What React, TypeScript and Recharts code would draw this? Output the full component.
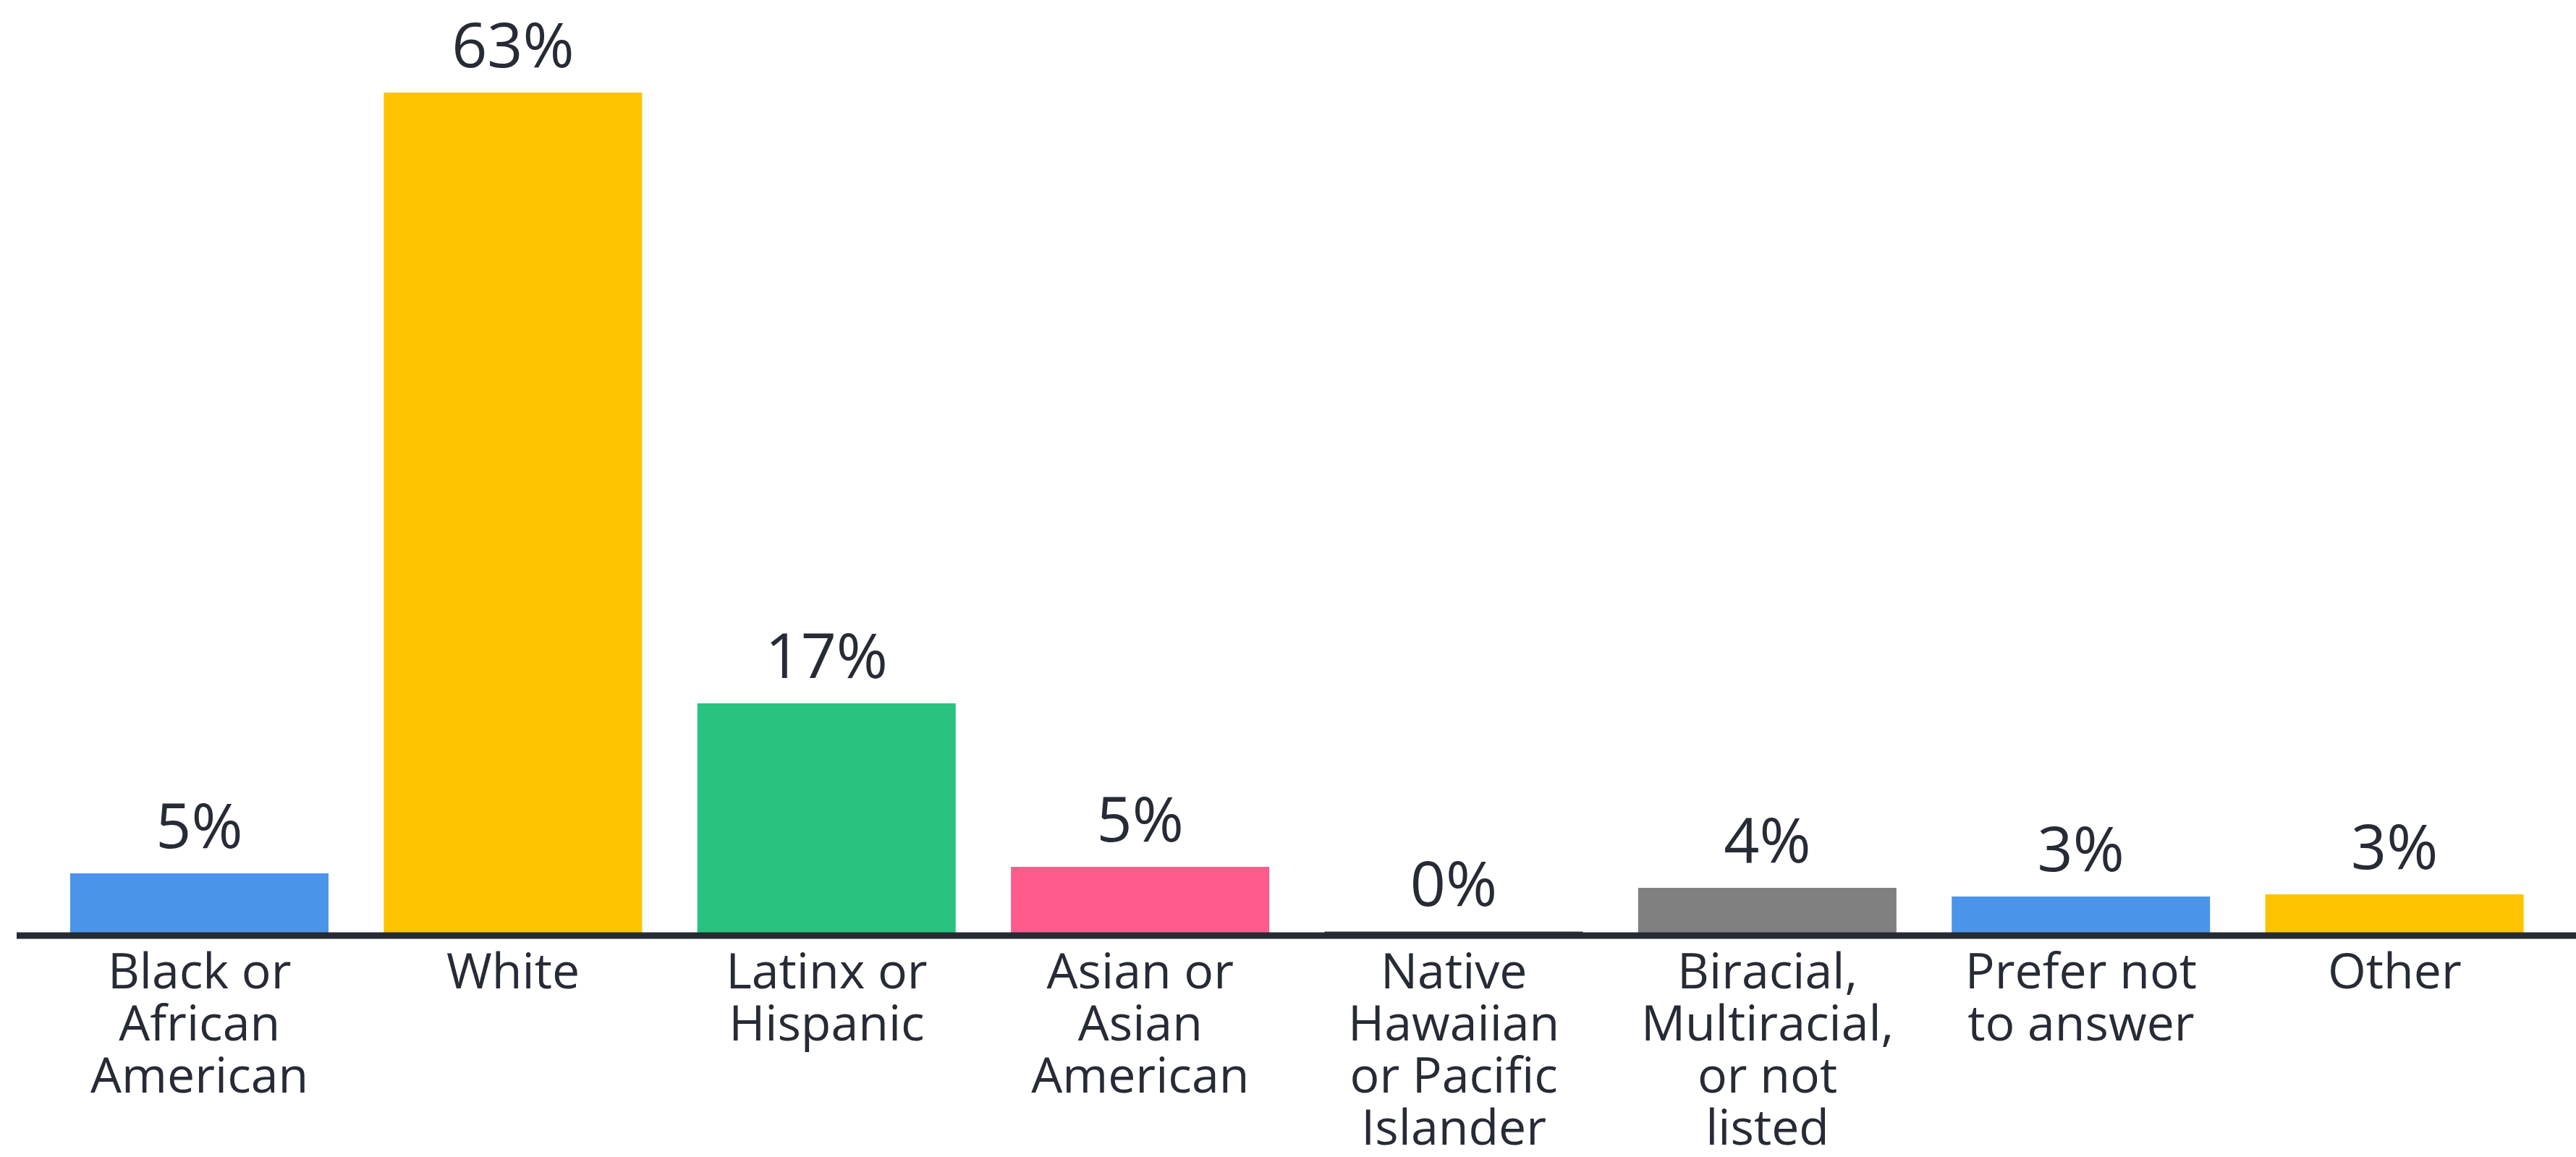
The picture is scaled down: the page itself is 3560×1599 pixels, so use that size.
import { Bar, BarChart, Cell, LabelList, XAxis, YAxis } from "recharts";

const categories = [
  "Black or\nAfrican\nAmerican",
  "White",
  "Latinx or\nHispanic",
  "Asian or\nAsian\nAmerican",
  "Native\nHawaiian\nor Pacific\nIslander",
  "Biracial,\nMultiracial,\nor not\nlisted",
  "Prefer not\nto answer",
  "Other",
];
const shares = [4.65, 63, 17.36, 5.14, 0.3, 3.57, 2.92, 3.08];
const shareLabels = ["5%", "63%", "17%", "5%", "0%", "4%", "3%", "3%"];
const barColors = [
  "#4a95ea",
  "#fdc300",
  "#28c37e",
  "#ff5b8d",
  "#2b2f3e",
  "#808080",
  "#4a95ea",
  "#fdc300",
];

const data = categories.map((name, i) => ({ name, share: shares[i] }));

const FONT = "'Open Sans', 'DejaVu Sans', sans-serif";
const INK = "#272b36";

function CategoryTick(props: any) {
  const { x, y, payload } = props;
  const lines = String(payload.value).split("\n");
  return (
    <text
      x={x}
      y={y + 73}
      textAnchor="middle"
      fill={INK}
      fontFamily={FONT}
      fontSize={68}
    >
      {lines.map((line, i) => (
        <tspan key={i} x={x} dy={i === 0 ? 0 : 72}>
          {line}
        </tspan>
      ))}
    </text>
  );
}

function ShareLabel(props: any) {
  const { x, y, width, index } = props;
  return (
    <text
      x={x + width / 2}
      y={y - 35}
      textAnchor="middle"
      fill={INK}
      fontFamily={FONT}
      fontSize={86}
    >
      {shareLabels[index]}
    </text>
  );
}

export default function App() {
  return (
    <div style={{ position: "absolute", left: 0, top: 0, background: "#fff" }}>
      <BarChart
        width={3560}
        height={1599}
        data={data}
        margin={{ top: 128, right: 0, bottom: 6, left: 23 }}
      >
        <YAxis hide domain={[0, 63]} />
        <XAxis
          dataKey="name"
          interval={0}
          height={300}
          padding={{ left: 36, right: 34 }}
          tickLine={false}
          tickSize={0}
          tickMargin={0}
          axisLine={{ stroke: "#262a33", strokeWidth: 9 }}
          tick={<CategoryTick />}
        />
        <Bar dataKey="share" barSize={357} isAnimationActive={false}>
          {data.map((d, i) => (
            <Cell key={d.name} fill={barColors[i]} />
          ))}
          <LabelList dataKey="share" content={<ShareLabel />} />
        </Bar>
      </BarChart>
    </div>
  );
}
